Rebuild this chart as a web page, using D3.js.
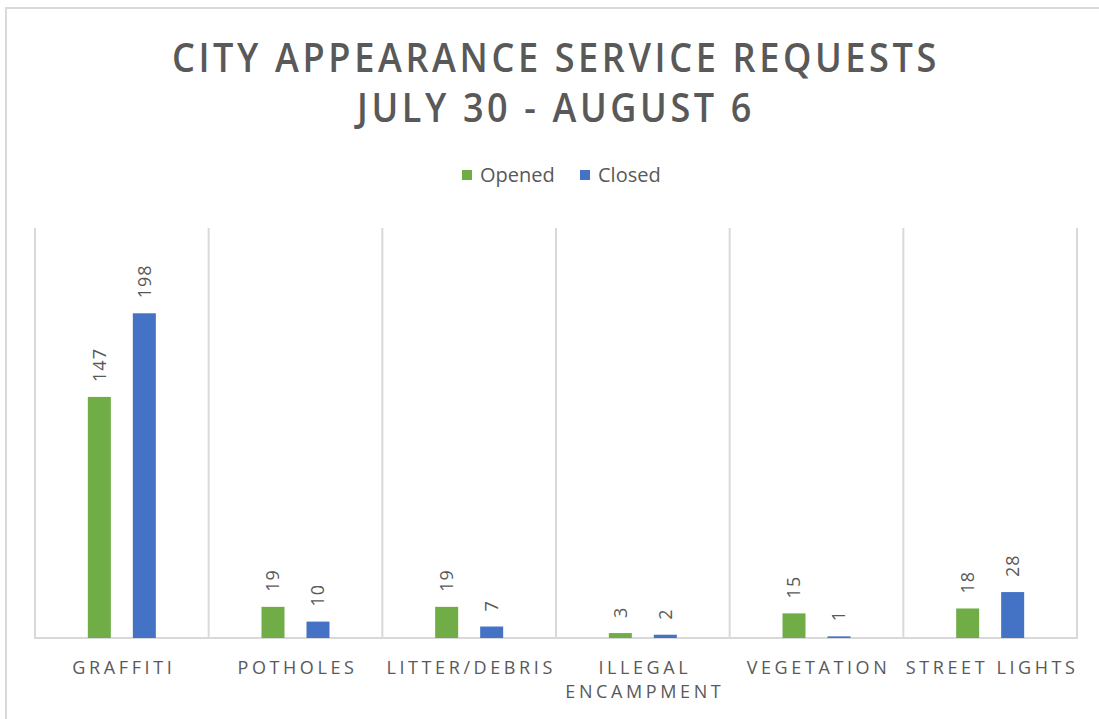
<!DOCTYPE html>
<html>
<head>
<meta charset="utf-8">
<script src="https://cdn.jsdelivr.net/npm/d3@7"></script>
<style>
  html, body { margin: 0; padding: 0; background: #fff; }
  svg { display: block; }
  text { font-family: "Open Sans", "Noto Sans", sans-serif; }
</style>
</head>
<body>
<svg id="chart" width="1099" height="719"></svg>
<script>
// Weekly service request counts by category
const categories = ["GRAFFITI", "POTHOLES", "LITTER/DEBRIS", "ILLEGAL\nENCAMPMENT", "VEGETATION", "STREET LIGHTS"];
const opened = [147, 19, 19, 3, 15, 18];
const closed = [198, 10, 7, 2, 1, 28];
const seriesNames = ["Opened", "Closed"];
const seriesColors = ["#70AD47", "#4472C4"];
const titleLines = ["CITY APPEARANCE SERVICE REQUESTS", "JULY 30 - AUGUST 6"];
const yMax = 250;

const svg = d3.select("#chart");
const textColor = "#595959";
const gridColor = "#d9d9d9";

// Outer chart frame
svg.append("rect")
  .attr("x", 6).attr("y", 8)
  .attr("width", 1110).attr("height", 730)
  .attr("fill", "none")
  .attr("stroke", gridColor)
  .attr("stroke-width", 2);

// Title
const titleWidths = [768, 398];
svg.selectAll("text.title")
  .data(titleLines)
  .join("text")
  .attr("class", "title")
  .attr("x", 556)
  .attr("y", (d, i) => 72 + i * 50)
  .attr("text-anchor", "middle")
  .attr("fill", textColor)
  .attr("font-size", 40)
  .attr("font-weight", 600)
  .attr("letter-spacing", 4)
  .attr("textLength", (d, i) => titleWidths[i])
  .attr("lengthAdjust", "spacingAndGlyphs")
  .text(d => d);

// Legend
const legendX = [462, 580];
const legend = svg.selectAll("g.legend")
  .data(seriesNames)
  .join("g")
  .attr("class", "legend")
  .attr("transform", (d, i) => `translate(${legendX[i]},175)`);
legend.append("rect")
  .attr("x", 0).attr("y", -5)
  .attr("width", 10).attr("height", 10)
  .attr("fill", (d, i) => seriesColors[i]);
legend.append("text")
  .attr("x", 18)
  .attr("dy", "0.36em")
  .attr("fill", textColor)
  .attr("font-size", 20)
  .text(d => d);

// Plot area
const plot = { left: 35, right: 1077, top: 228, bottom: 638 };

const x0 = d3.scaleBand()
  .domain(categories)
  .range([plot.left, plot.right])
  .padding(0);

const bw = x0.bandwidth();
const x1 = d3.scaleBand()
  .domain(seriesNames)
  .range([bw / 2 - 45, bw / 2 + 45])
  .paddingInner(22 / 45)
  .paddingOuter(11 / 45);

const y = d3.scaleLinear()
  .domain([0, yMax])
  .range([plot.bottom, plot.top]);

// Vertical category separators
const bounds = categories.map(c => x0(c)).concat([plot.right]);
svg.selectAll("line.sep")
  .data(bounds)
  .join("line")
  .attr("class", "sep")
  .attr("x1", d => d).attr("x2", d => d)
  .attr("y1", plot.top).attr("y2", plot.bottom)
  .attr("stroke", gridColor)
  .attr("stroke-width", 2);

// Baseline
svg.append("line")
  .attr("x1", plot.left - 1).attr("x2", plot.right + 1)
  .attr("y1", y(0)).attr("y2", y(0))
  .attr("stroke", gridColor)
  .attr("stroke-width", 2);

// Bars and value labels
const rows = categories.map((c, i) => ({
  category: c,
  values: [opened[i], closed[i]]
}));

const groups = svg.selectAll("g.cat")
  .data(rows)
  .join("g")
  .attr("class", "cat")
  .attr("transform", d => `translate(${x0(d.category)},0)`);

const cells = groups.selectAll("g.cell")
  .data(d => d.values.map((v, i) => ({ series: seriesNames[i], color: seriesColors[i], value: v })))
  .join("g")
  .attr("class", "cell");

cells.append("rect")
  .attr("x", d => x1(d.series))
  .attr("y", d => y(d.value))
  .attr("width", x1.bandwidth())
  .attr("height", d => y(0) - y(d.value))
  .attr("fill", d => d.color);

cells.append("text")
  .attr("transform", d => `translate(${x1(d.series) + x1.bandwidth() / 2},${y(d.value) - 15}) rotate(-90)`)
  .attr("dy", "0.36em")
  .attr("text-anchor", "start")
  .attr("fill", textColor)
  .attr("font-size", 18)
  .attr("letter-spacing", 1)
  .text(d => d.value);

// Category labels (multi-line where needed)
const catLabels = svg.selectAll("text.cat-label")
  .data(categories)
  .join("text")
  .attr("class", "cat-label")
  .attr("text-anchor", "middle")
  .attr("fill", textColor)
  .attr("font-size", 18)
  .attr("letter-spacing", 3.6);

catLabels.each(function(d) {
  const lines = d.split("\n");
  const el = d3.select(this);
  lines.forEach((line, i) => {
    el.append("tspan")
      .attr("x", x0(d) + bw / 2 + 2)
      .attr("y", 674 + i * 24)
      .text(line);
  });
});
</script>
</body>
</html>
